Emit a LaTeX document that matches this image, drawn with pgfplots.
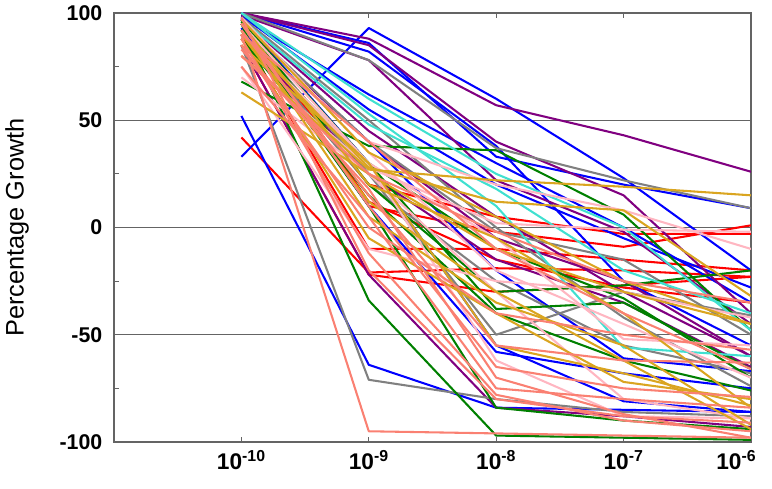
\documentclass[border=0pt]{standalone}
\usepackage{fontspec}
\setmainfont{Liberation Sans}
\usepackage{pgfplots}
\pgfplotsset{compat=1.18}

\definecolor{cblue}{RGB}{0,0,255}
\definecolor{cpurple}{RGB}{128,0,128}
\definecolor{cgray}{RGB}{128,128,128}
\definecolor{cgreen}{RGB}{0,128,0}
\definecolor{cturq}{RGB}{64,224,208}
\definecolor{corange}{RGB}{218,165,32}
\definecolor{csalmon}{RGB}{250,128,114}
\definecolor{cpink}{RGB}{255,182,193}
\definecolor{cred}{RGB}{255,0,0}
\definecolor{frame}{RGB}{100,100,100}

\pgfplotsset{dr/.style={draw=#1, line width=1.55pt, line join=round}}

\begin{document}
\begin{tikzpicture}
\begin{axis}[
  at={(0,0)}, anchor=south west,
  scale only axis, width=477.75pt, height=321.75pt,
  xmode=log, xmin=1e-11, xmax=1e-6,
  ymin=-100, ymax=100,
  xtick={1e-10,1e-9,1e-8,1e-7,1e-6},
  xticklabels={10\textsuperscript{-10},10\textsuperscript{-9},10\textsuperscript{-8},10\textsuperscript{-7},10\textsuperscript{-6}\hspace*{22pt}},
  xminorticks=false,
  xtick pos=both, xticklabel pos=lower,
  ytick={-100,-50,0,50,100},
  yticklabels={-100,-50,0,50,100},
  minor ytick={-75,-25,25,75},
  ytick pos=left,
  tick align=inside,
  major tick length=3.5pt, minor tick length=3.5pt,
  ymajorgrids, grid style={draw=frame, line width=1.1pt},
  axis line style={draw=frame, line width=1.1pt},
  every tick/.style={draw=frame, line width=0.9pt},
  yticklabel style={font=\fontsize{16}{18}\selectfont\bfseries, inner sep=0pt, xshift=-8.6pt},
  xticklabel style={font=\fontsize{17}{19}\selectfont\bfseries, inner sep=0pt, yshift=-6pt},
  ylabel={Percentage Growth},
  ylabel style={font=\fontsize{19}{21}\selectfont, at={(axis description cs:-0.1523,0.5)}, anchor=center},
]
% red
\addplot[dr=cred] coordinates {(1e-10,42) (1e-9,-21) (1e-8,-19) (1e-7,-20) (1e-6,-23)};
\addplot[dr=cred] coordinates {(1e-10,95) (1e-9,10) (1e-8,-2) (1e-7,-9) (1e-6,1)};
\addplot[dr=cred] coordinates {(1e-10,90) (1e-9,-10) (1e-8,-10) (1e-7,-15) (1e-6,-20)};
\addplot[dr=cred] coordinates {(1e-10,85) (1e-9,-22) (1e-8,-30) (1e-7,-27) (1e-6,-23)};
\addplot[dr=cred] coordinates {(1e-10,92) (1e-9,20) (1e-8,5) (1e-7,-3) (1e-6,-3)};
\addplot[dr=cred] coordinates {(1e-10,97) (1e-9,12) (1e-8,-15) (1e-7,-28) (1e-6,-35)};
% blue
\addplot[dr=cblue] coordinates {(1e-10,33) (1e-9,93) (1e-8,60) (1e-7,23) (1e-6,-20)};
\addplot[dr=cblue] coordinates {(1e-10,52) (1e-9,-64) (1e-8,-84) (1e-7,-85) (1e-6,-86)};
\addplot[dr=cblue] coordinates {(1e-10,100) (1e-9,86) (1e-8,33) (1e-7,20) (1e-6,9)};
\addplot[dr=cblue] coordinates {(1e-10,98) (1e-9,62) (1e-8,30) (1e-7,0) (1e-6,-35)};
\addplot[dr=cblue] coordinates {(1e-10,93) (1e-9,10) (1e-8,-58) (1e-7,-68) (1e-6,-75)};
\addplot[dr=cblue] coordinates {(1e-10,97) (1e-9,30) (1e-8,-55) (1e-7,-81) (1e-6,-86)};
\addplot[dr=cblue] coordinates {(1e-10,95) (1e-9,40) (1e-8,-20) (1e-7,-61) (1e-6,-67)};
\addplot[dr=cblue] coordinates {(1e-10,99) (1e-9,55) (1e-8,20) (1e-7,-5) (1e-6,-28)};
\addplot[dr=cblue] coordinates {(1e-10,100) (1e-9,82) (1e-8,38) (1e-7,-25) (1e-6,-55)};
% purple
\addplot[dr=cpurple] coordinates {(1e-10,100) (1e-9,88) (1e-8,57) (1e-7,43) (1e-6,26)};
\addplot[dr=cpurple] coordinates {(1e-10,100) (1e-9,85) (1e-8,40) (1e-7,15) (1e-6,-40)};
\addplot[dr=cpurple] coordinates {(1e-10,99) (1e-9,78) (1e-8,22) (1e-7,-2) (1e-6,-45)};
\addplot[dr=cpurple] coordinates {(1e-10,95) (1e-9,40) (1e-8,-5) (1e-7,-25) (1e-6,-60)};
\addplot[dr=cpurple] coordinates {(1e-10,90) (1e-9,25) (1e-8,-15) (1e-7,-35) (1e-6,-65)};
\addplot[dr=cpurple] coordinates {(1e-10,85) (1e-9,-22) (1e-8,-84) (1e-7,-88) (1e-6,-93)};
\addplot[dr=cpurple] coordinates {(1e-10,97) (1e-9,45) (1e-8,5) (1e-7,-30) (1e-6,-60)};
% gray
\addplot[dr=cgray] coordinates {(1e-10,100) (1e-9,78) (1e-8,37) (1e-7,22) (1e-6,9)};
\addplot[dr=cgray] coordinates {(1e-10,85) (1e-9,-71) (1e-8,-80) (1e-7,-86) (1e-6,-88)};
\addplot[dr=cgray] coordinates {(1e-10,95) (1e-9,25) (1e-8,-50) (1e-7,-30) (1e-6,-41)};
\addplot[dr=cgray] coordinates {(1e-10,98) (1e-9,50) (1e-8,0) (1e-7,-42) (1e-6,-74)};
\addplot[dr=cgray] coordinates {(1e-10,96) (1e-9,40) (1e-8,-2) (1e-7,-15) (1e-6,-50)};
\addplot[dr=cgray] coordinates {(1e-10,90) (1e-9,20) (1e-8,-25) (1e-7,-55) (1e-6,-68)};
% green
\addplot[dr=cgreen] coordinates {(1e-10,68) (1e-9,38) (1e-8,36) (1e-7,6) (1e-6,-48)};
\addplot[dr=cgreen] coordinates {(1e-10,95) (1e-9,-34) (1e-8,-97) (1e-7,-98) (1e-6,-99)};
\addplot[dr=cgreen] coordinates {(1e-10,90) (1e-9,30) (1e-8,-10) (1e-7,-33) (1e-6,-70)};
\addplot[dr=cgreen] coordinates {(1e-10,97) (1e-9,20) (1e-8,-30) (1e-7,-27) (1e-6,-20)};
\addplot[dr=cgreen] coordinates {(1e-10,92) (1e-9,10) (1e-8,-84) (1e-7,-90) (1e-6,-94)};
\addplot[dr=cgreen] coordinates {(1e-10,96) (1e-9,30) (1e-8,-38) (1e-7,-35) (1e-6,-66)};
\addplot[dr=cgreen] coordinates {(1e-10,88) (1e-9,15) (1e-8,-40) (1e-7,-62) (1e-6,-76)};
% turquoise
\addplot[dr=cturq] coordinates {(1e-10,100) (1e-9,53) (1e-8,10) (1e-7,-56) (1e-6,-60)};
\addplot[dr=cturq] coordinates {(1e-10,100) (1e-9,60) (1e-8,25) (1e-7,0) (1e-6,-48)};
\addplot[dr=cturq] coordinates {(1e-10,97) (1e-9,48) (1e-8,18) (1e-7,-20) (1e-6,-40)};
% pink
\addplot[dr=cpink] coordinates {(1e-10,90) (1e-9,40) (1e-8,20) (1e-7,8) (1e-6,-10)};
\addplot[dr=cpink] coordinates {(1e-10,80) (1e-9,28) (1e-8,2) (1e-7,-1) (1e-6,-2)};
\addplot[dr=cpink] coordinates {(1e-10,75) (1e-9,-10) (1e-8,-25) (1e-7,-30) (1e-6,-42)};
\addplot[dr=cpink] coordinates {(1e-10,95) (1e-9,30) (1e-8,-62) (1e-7,-88) (1e-6,-89)};
\addplot[dr=cpink] coordinates {(1e-10,90) (1e-9,30) (1e-8,-5) (1e-7,-52) (1e-6,-55)};
\addplot[dr=cpink] coordinates {(1e-10,70) (1e-9,25) (1e-8,-30) (1e-7,-80) (1e-6,-89)};
\addplot[dr=cpink] coordinates {(1e-10,98) (1e-9,35) (1e-8,-20) (1e-7,-45) (1e-6,-70)};
% orange
\addplot[dr=corange] coordinates {(1e-10,80) (1e-9,27) (1e-8,22) (1e-7,19) (1e-6,15)};
\addplot[dr=corange] coordinates {(1e-10,63) (1e-9,25) (1e-8,-10) (1e-7,-30) (1e-6,-45)};
\addplot[dr=corange] coordinates {(1e-10,90) (1e-9,28) (1e-8,12) (1e-7,8) (1e-6,-32)};
\addplot[dr=corange] coordinates {(1e-10,95) (1e-9,20) (1e-8,-5) (1e-7,-40) (1e-6,-84)};
\addplot[dr=corange] coordinates {(1e-10,92) (1e-9,5) (1e-8,-35) (1e-7,-55) (1e-6,-92)};
\addplot[dr=corange] coordinates {(1e-10,88) (1e-9,-5) (1e-8,-40) (1e-7,-72) (1e-6,-80)};
\addplot[dr=corange] coordinates {(1e-10,97) (1e-9,35) (1e-8,5) (1e-7,-25) (1e-6,-45)};
\addplot[dr=corange] coordinates {(1e-10,90) (1e-9,12) (1e-8,-30) (1e-7,-62) (1e-6,-94)};
\addplot[dr=corange] coordinates {(1e-10,85) (1e-9,30) (1e-8,-55) (1e-7,-68) (1e-6,-83)};
% salmon
\addplot[dr=csalmon] coordinates {(1e-10,90) (1e-9,-95) (1e-8,-96) (1e-7,-97) (1e-6,-98)};
\addplot[dr=csalmon] coordinates {(1e-10,95) (1e-9,10) (1e-8,-65) (1e-7,-75) (1e-6,-79)};
\addplot[dr=csalmon] coordinates {(1e-10,88) (1e-9,-12) (1e-8,-78) (1e-7,-90) (1e-6,-95)};
\addplot[dr=csalmon] coordinates {(1e-10,85) (1e-9,0) (1e-8,-40) (1e-7,-50) (1e-6,-57)};
\addplot[dr=csalmon] coordinates {(1e-10,80) (1e-9,25) (1e-8,-2) (1e-7,-25) (1e-6,-35)};
\addplot[dr=csalmon] coordinates {(1e-10,92) (1e-9,15) (1e-8,-55) (1e-7,-62) (1e-6,-63)};
\addplot[dr=csalmon] coordinates {(1e-10,98) (1e-9,-20) (1e-8,-80) (1e-7,-88) (1e-6,-91)};
\addplot[dr=csalmon] coordinates {(1e-10,75) (1e-9,5) (1e-8,-75) (1e-7,-80) (1e-6,-84)};
\addplot[dr=csalmon] coordinates {(1e-10,90) (1e-9,40) (1e-8,-10) (1e-7,-40) (1e-6,-66)};
\addplot[dr=csalmon] coordinates {(1e-10,83) (1e-9,18) (1e-8,-70) (1e-7,-87) (1e-6,-98)};
\end{axis}
\pgfresetboundingbox
\path (-85.5pt,-35.25pt) rectangle (493.5pt,331.5pt);
\end{tikzpicture}
\end{document}
